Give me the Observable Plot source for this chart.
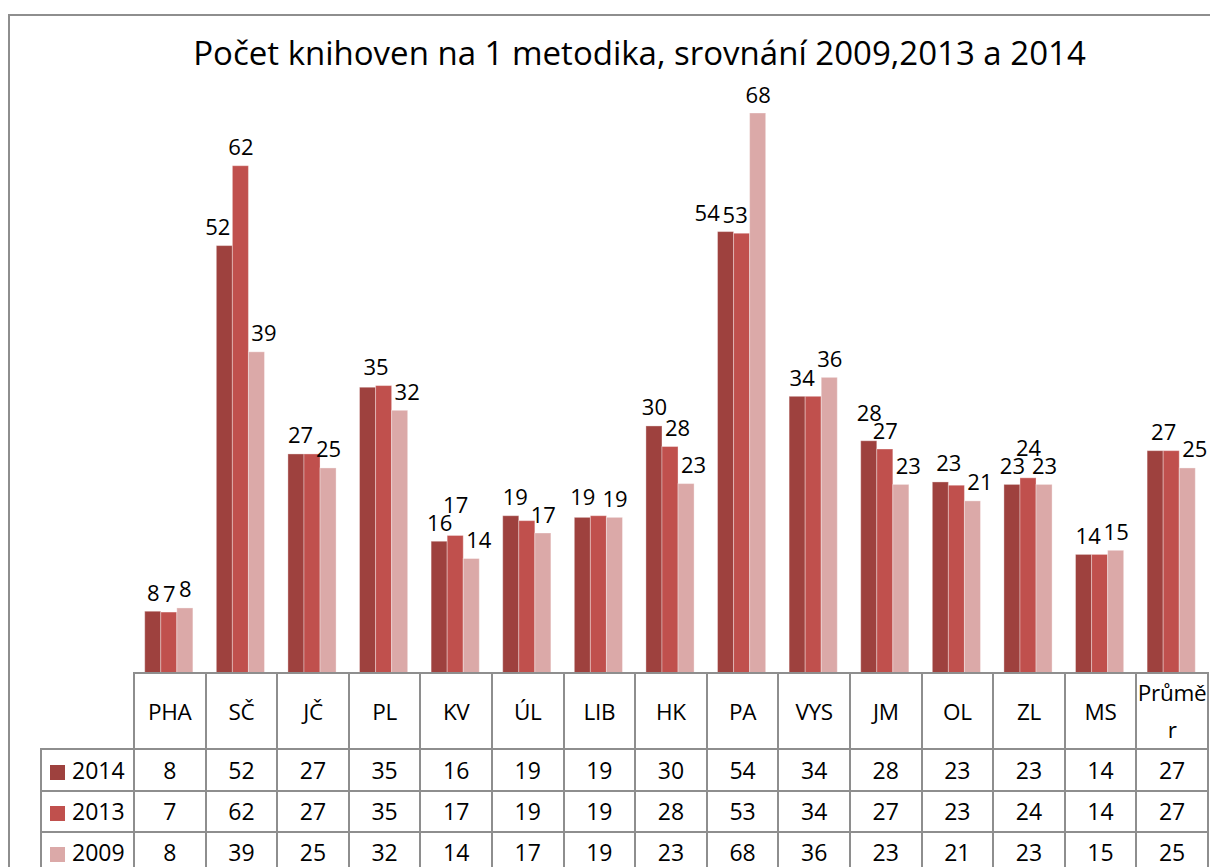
<!DOCTYPE html>
<html>
<head>
<meta charset="utf-8">
<script src="https://cdn.jsdelivr.net/npm/d3@7"></script>
<script src="https://cdn.jsdelivr.net/npm/@observablehq/plot@0.6"></script>
<style>
html, body { margin: 0; padding: 0; overflow: hidden; background: #fff; width: 1210px; height: 867px; }
#wrap { position: relative; width: 1210px; height: 867px; font-family: "Open Sans", sans-serif; color: #000; }
#frame { position: absolute; left: 8px; top: 14px; width: 1400px; height: 1000px; border: 2px solid #8e8e8e; pointer-events: none; }
#title { position: absolute; left: 0; top: 36px; width: 1279px; text-align: center; font-size: 33px; line-height: 33px; white-space: nowrap; }
#chart { position: absolute; left: 0; top: 0; }
#tbl { position: absolute; left: 40px; top: 672px; border-collapse: collapse; table-layout: fixed; font-size: 23px; }
#tbl td { border: 2px solid #8e8e8e; padding: 0; text-align: center; vertical-align: middle; line-height: 37px; }
#tbl td.empty { border-top: none; border-left: none; }
#tbl td.rowlab { text-align: left; padding-left: 8px; white-space: nowrap; }
#tbl td.hdr { word-break: break-all; font-size: 22.5px; letter-spacing: -0.3px; }
.sw { display: inline-block; width: 15px; height: 15px; margin-right: 7px; vertical-align: -1px; }
</style>
</head>
<body>
<div id="wrap">
  <div id="title">Počet knihoven na 1 metodika, srovnání 2009,2013 a 2014</div>
  <div id="chart"></div>
  <table id="tbl"></table>
  <div id="frame"></div>
</div>
<script>
// ---- data ----
const categories = ["PHA", "SČ", "JČ", "PL", "KV", "ÚL", "LIB", "HK", "PA", "VYS", "JM", "OL", "ZL", "MS", "Průměr"];
const years = ["2014", "2013", "2009"];
const v2014 = [7.5, 51.9, 26.6, 34.7, 16.0, 19.1, 18.9, 30.0, 53.6, 33.6, 28.2, 23.2, 22.9, 14.4, 27.0];
const v2013 = [7.4, 61.6, 26.6, 34.9, 16.7, 18.5, 19.1, 27.5, 53.4, 33.6, 27.2, 22.8, 23.7, 14.4, 27.0];
const v2009 = [7.9, 39.0, 24.9, 31.9, 13.9, 17.0, 18.9, 23.0, 68.0, 35.9, 22.9, 20.9, 22.9, 14.9, 24.9];
const colors = ["#9e413e", "#c0504d", "#dba9a8"];

const series = {"2014": v2014, "2013": v2013, "2009": v2009};
const data = [];
categories.forEach((c, i) => years.forEach(y => data.push({cat: c, year: y, value: series[y][i]})));
const fmt = v => String(Math.round(v));

const W = 1210, H = 673, ML = 133, MR = 3, MT = 113;
const colW = (W - ML - MR) / categories.length;
const xOpts = {domain: years, paddingInner: 0, paddingOuter: 0.73, round: false};
const yOpts = {domain: [0, 68]};

// scales used for the label collision layout (same options as the plot)
const xs = Plot.scale({x: {type: "band", ...xOpts, range: [0, colW]}});
const ys = Plot.scale({y: {type: "linear", ...yOpts, range: [H, MT]}});
const bw = xs.bandwidth;
const DY = -18, CH = 18, GAP = 3, HGAP = 4, DIGIT = 12;

function layout(cat, i) {
  const labs = years.map((y, k) => {
    const v = series[y][i], t = fmt(v), x0 = xs.apply(y);
    return {d: {cat, year: y, value: v}, text: t, w: t.length * DIGIT,
      nat: x0 + bw / 2, cx: x0 + bw / 2, top: ys.apply(v), cy: ys.apply(v) + DY,
      left: x0, right: x0 + bw, minX: -Infinity, maxX: Infinity, merged: false};
  });
  // keep labels off taller neighbouring bars
  labs.forEach((L, k) => {
    const bottom = L.cy + 4;
    if (k < labs.length - 1 && labs[k + 1].top < bottom) L.maxX = labs[k + 1].left - L.w / 2 - GAP;
    if (k > 0 && labs[k - 1].top < bottom) L.minX = labs[k - 1].right + L.w / 2 + GAP;
    L.cx = Math.min(L.maxX, Math.max(L.minX, L.cx));
  });
  // identical neighbouring labels collapse into one
  const out = [];
  labs.forEach(L => {
    const P = out[out.length - 1];
    if (P && !P.merged && P.text === L.text && Math.abs(P.cy - L.cy) < 8 && (L.cx - P.cx) < (P.w + L.w) / 2) {
      P.cx = (P.cx + L.cx) / 2;
      P.cy = Math.min(P.cy, L.cy);
      P.merged = true;
    } else out.push(L);
  });
  // resolve remaining overlaps
  for (let j = 0; j < out.length - 1; j++) {
    const A = out[j], B = out[j + 1];
    const ox = (A.w + B.w) / 2 + HGAP - (B.cx - A.cx);
    const oy = CH - Math.abs(A.cy - B.cy);
    if (ox > 0 && oy > 0) {
      if (A.merged) {
        A.cx = A.text === B.text ? A.nat : A.cx - ox;
      } else if (Math.abs(A.top - B.top) > 5) {
        if (A.top < B.top) A.cy = B.cy - CH; else B.cy = A.cy - CH;
      } else {
        const mvB = Math.max(0, Math.min(ox / 2, B.maxX - B.cx));
        B.cx += mvB; A.cx -= (ox - mvB);
      }
    }
  }
  return out.map(L => ({d: L.d, text: L.text, dx: L.cx - L.nat, dy: L.cy - L.top}));
}
const labels = categories.flatMap((c, i) => layout(c, i));

const chart = Plot.plot({
  width: W,
  height: H,
  marginLeft: ML,
  marginRight: MR,
  marginTop: MT,
  marginBottom: 0,
  fx: {domain: categories, padding: 0, round: false, axis: null},
  x: {...xOpts, axis: null},
  y: {...yOpts, axis: null},
  color: {domain: years, range: colors},
  style: {fontFamily: "'Open Sans', sans-serif", background: "transparent"},
  marks: [
    Plot.barY(data, {fx: "cat", x: "year", y: "value", fill: "year", stroke: "#ffffff", strokeOpacity: 0.35, strokeWidth: 1}),
    ...labels.map(L => Plot.text([L.d], {fx: "cat", x: "year", y: "value", text: () => L.text,
      dx: L.dx, dy: L.dy, fontSize: 22, fill: "#000"}))
  ]
});
document.getElementById("chart").appendChild(chart);

// ---- data table below the chart (aligned with the category bands) ----
const tbl = d3.select("#tbl");
const cg = tbl.append("colgroup");
cg.append("col").style("width", "93px");
categories.forEach(() => cg.append("col").style("width", colW + "px"));
const hdr = tbl.append("tr").style("height", "74px");
hdr.append("td").attr("class", "empty");
categories.forEach(c => hdr.append("td").attr("class", "hdr").text(c));
years.forEach((y, k) => {
  const tr = tbl.append("tr").style("height", k === 0 ? "42px" : "41px");
  const lab = tr.append("td").attr("class", "rowlab");
  lab.append("span").attr("class", "sw").style("background", colors[k]);
  lab.append("span").text(y);
  series[y].forEach(v => tr.append("td").text(fmt(v)));
});
</script>
</body>
</html>
